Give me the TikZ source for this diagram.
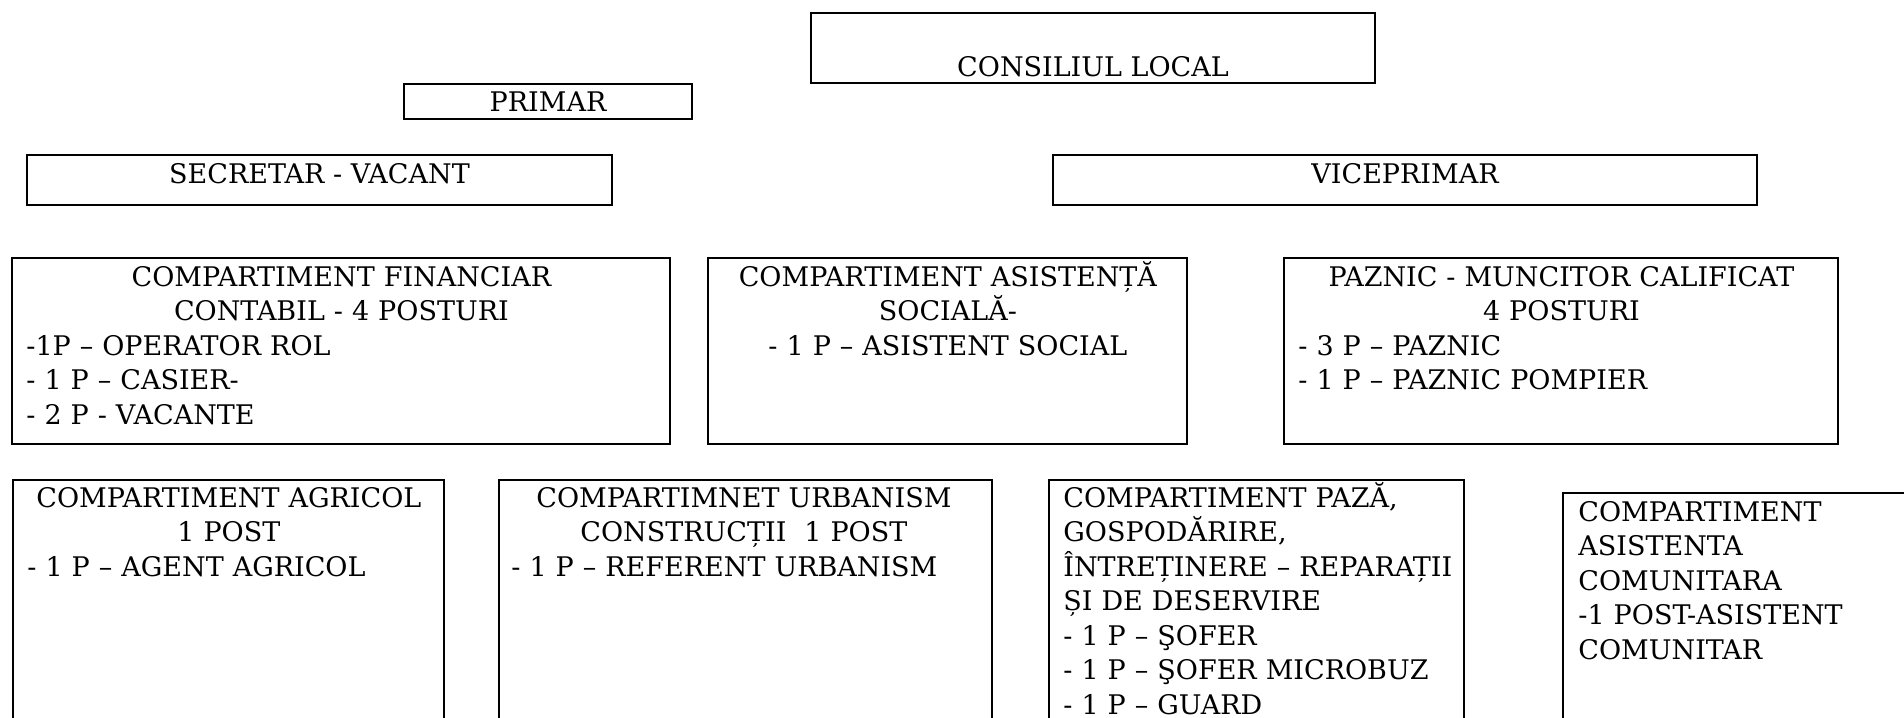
\documentclass[tikz,border=0pt]{standalone}
\usepackage{fontspec}
\setmainfont{DejaVu Serif}
\tikzset{
  box/.style={line width=1pt},
  boxtext/.style={inner sep=0pt, anchor=base west, font=\fontsize{13.5}{17.25}\selectfont},
}
\newcommand{\orgbox}[4]{\draw[box] (#1,#2) rectangle (#3,#4);}

\begin{document}
\begin{tikzpicture}[x=0.5pt,y=-0.5pt]
\useasboundingbox (0,0) rectangle (1904,717);
\clip (0,0) rectangle (1904,717);
% conducere
\orgbox{811}{13}{1375}{83}
\node[boxtext, anchor=base] (consiliu) at (1093,76) {CONSILIUL LOCAL};
\orgbox{404}{84}{692}{119}
\node[boxtext, anchor=base] (primar) at (548,112) {PRIMAR};
\orgbox{27}{155}{612}{205}
\node[boxtext, anchor=base] (secretar) at (319.5,183) {SECRETAR - VACANT};
\orgbox{1053}{155}{1757}{205}
\node[boxtext, anchor=base] (viceprimar) at (1405,183) {VICEPRIMAR};
% compartimente, randul 1
\orgbox{12}{258}{670}{444}
\node[boxtext, text width=315pt] (financiar) at (26,286) {\centering COMPARTIMENT FINANCIAR\\ CONTABIL - 4 POSTURI\par
  \raggedright -1P – OPERATOR ROL\\ - 1 P – CASIER-\\ - 2 P - VACANTE};
\orgbox{708}{258}{1187}{444}
\node[boxtext, text width=225.5pt] (asistenta) at (722,286) {\centering COMPARTIMENT ASISTENȚĂ\\ SOCIALĂ-\\ - 1 P – ASISTENT SOCIAL\par};
\orgbox{1284}{258}{1838}{444}
\node[boxtext, text width=263pt] (paznic) at (1298,286) {\centering PAZNIC - MUNCITOR CALIFICAT\\ 4 POSTURI\par
  \raggedright - 3 P – PAZNIC\\ - 1 P – PAZNIC POMPIER};
% compartimente, randul 2
\orgbox{13}{480}{444}{740}
\node[boxtext, text width=201.5pt] (agricol) at (27,507) {\centering COMPARTIMENT AGRICOL\\ 1 POST\par
  \raggedright - 1 P – AGENT AGRICOL};
\orgbox{499}{480}{992}{740}
\node[boxtext, text width=232.5pt] (urbanism) at (511,507) {\centering COMPARTIMNET URBANISM\\ CONSTRUCȚII\ \ 1 POST\par
  \raggedright - 1 P – REFERENT URBANISM};
\orgbox{1049}{480}{1464}{740}
\node[boxtext, text width=200pt] (paza) at (1063,507) {\raggedright COMPARTIMENT PAZĂ,\\ GOSPODĂRIRE,\\
  ÎNTREȚINERE – REPARAȚII\\ ȘI DE DESERVIRE\\ - 1 P – ŞOFER\\ - 1 P – ŞOFER MICROBUZ\\ - 1 P – GUARD};
\orgbox{1563}{493}{1930}{740}
\node[boxtext, text width=160pt] (comunitar) at (1578,521) {\raggedright COMPARTIMENT\\ ASISTENTA\\ COMUNITARA\\
  -1 POST-ASISTENT\\ COMUNITAR};
\end{tikzpicture}
\end{document}
